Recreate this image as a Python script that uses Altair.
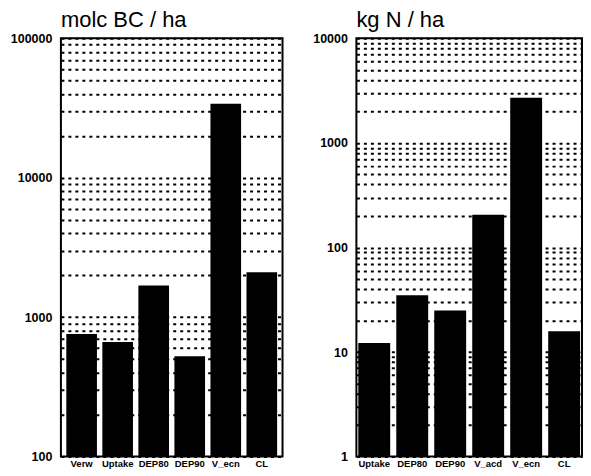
import altair as alt
import pandas as pd

# Left panel: molc BC / ha
bc_cats = ["Verw", "Uptake", "DEP80", "DEP90", "V_ecn", "CL"]
bc_vals = [757, 663, 1690, 525, 34000, 2100]
bc_decades = [100, 1000, 10000, 100000]

# Right panel: kg N / ha
n_cats = ["Uptake", "DEP80", "DEP90", "V_acd", "V_ecn", "CL"]
n_vals = [12.2, 35, 25, 206, 2700, 15.8]
n_decades = [1, 10, 100, 1000, 10000]

mult = [1, 2, 3, 4, 5, 6, 7, 8, 9]


def grid_values(decades):
    vals = []
    for d in decades[:-1]:
        vals += [d * m for m in mult]
    vals.append(decades[-1])
    return vals


def panel(cats, vals, decades, title, extent, pad_outer, pad_inner, width):
    df = pd.DataFrame({"cat": cats, "val": vals})
    dec_list = ",".join(str(d) for d in decades)
    return alt.Chart(df, title=alt.Title(
        title, anchor="start", frame="group", fontSize=22, fontWeight="normal",
        font="Liberation Sans", color="black", offset=0,
    )).mark_bar(color="black").encode(
        x=alt.X("cat:N", sort=cats, title=None,
                scale=alt.Scale(paddingInner=pad_inner, paddingOuter=pad_outer),
                axis=alt.Axis(labelAngle=0, ticks=False, domain=False,
                              labelFontSize=9.5, labelFontWeight="bold",
                              labelFont="Liberation Sans", labelColor="black",
                              labelPadding=2)),
        y=alt.Y("val:Q", title=None,
                scale=alt.Scale(type="log", domain=[decades[0], decades[-1]], nice=False),
                axis=alt.Axis(values=grid_values(decades), ticks=False, domain=False,
                              labelExpr=f"indexof([{dec_list}], datum.value) >= 0 ? format(datum.value, 'd') : ''",
                              labelFontSize=12.5, labelFontWeight="bold",
                              labelFont="Liberation Sans", labelColor="black",
                              labelPadding=9, minExtent=extent, maxExtent=extent,
                              grid=True, gridColor="black", gridDash=[3, 4],
                              gridWidth=2, gridOpacity=1)),
        y2=alt.datum(decades[0]),
    ).properties(width=width, height=419)


left = panel(bc_cats, bc_vals, bc_decades, "molc BC / ha", 52, 0.15, 0.15, 222)
right = panel(n_cats, n_vals, n_decades, "kg N / ha", 50, 0.05, 0.16, 226)

chart = alt.hconcat(left, right, spacing=22).properties(
    padding=0, background="white"
).configure_view(stroke="black", strokeWidth=2)

chart.save("out.html", embed_options={"renderer": "svg", "actions": False})
